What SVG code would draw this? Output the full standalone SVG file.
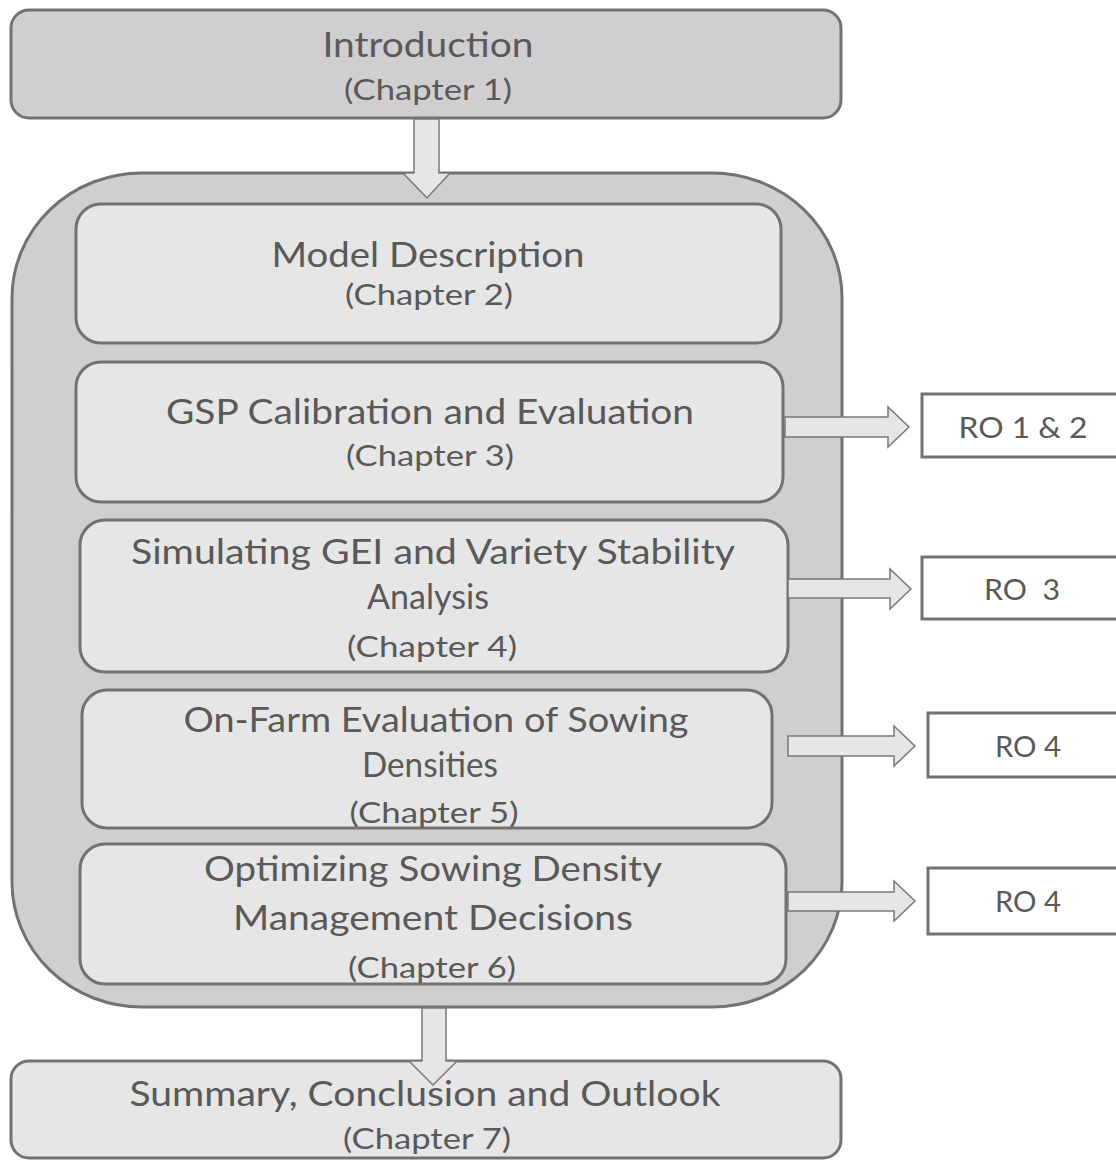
<svg xmlns="http://www.w3.org/2000/svg" width="1116" height="1167" viewBox="0 0 1116 1167">
<style>
.outer{fill:#d0cecf;stroke:#757171;stroke-width:3}
.inner{fill:#e6e6e6;stroke:#757171;stroke-width:3}
.ro{fill:#ffffff;stroke:#757171;stroke-width:3}
.arr{fill:#e6e6e6;stroke:#7a7777;stroke-width:1.5;stroke-linejoin:miter}
text{font-family:Lato,"Open Sans","Liberation Sans",sans-serif;fill:#595959;text-anchor:middle}
.t{font-size:35px}
.c{font-size:28px}
.r{font-size:29px}
</style>
<g id="intro">
<rect class="outer" x="11" y="10" width="830" height="108" rx="18"/>
<text class="t" x="428" y="57" textLength="211" lengthAdjust="spacingAndGlyphs">Introduction</text>
<text class="c" x="428" y="100" textLength="168" lengthAdjust="spacingAndGlyphs">(Chapter 1)</text>
</g>
<g id="container">
<rect class="outer" x="12" y="173" width="830" height="834" rx="130" ry="125"/>
</g>
<g id="ch2">
<rect class="inner" x="76" y="204" width="705" height="139" rx="25"/>
<text class="t" x="428" y="267" textLength="313" lengthAdjust="spacingAndGlyphs">Model Description</text>
<text class="c" x="429" y="305" textLength="168" lengthAdjust="spacingAndGlyphs">(Chapter 2)</text>
</g>
<g id="ch3">
<rect class="inner" x="76" y="362" width="707" height="140" rx="25"/>
<text class="t" x="430" y="424" textLength="528" lengthAdjust="spacingAndGlyphs">GSP Calibration and Evaluation</text>
<text class="c" x="430" y="466" textLength="168" lengthAdjust="spacingAndGlyphs">(Chapter 3)</text>
</g>
<g id="ch4">
<rect class="inner" x="80" y="520" width="708" height="152" rx="25"/>
<text class="t" x="433" y="564" textLength="604" lengthAdjust="spacingAndGlyphs">Simulating GEI and Variety Stability</text>
<text class="t" x="428" y="609" textLength="122" lengthAdjust="spacingAndGlyphs">Analysis</text>
<text class="c" x="432" y="657" textLength="170" lengthAdjust="spacingAndGlyphs">(Chapter 4)</text>
</g>
<g id="ch5">
<rect class="inner" x="82" y="690" width="690" height="138" rx="25"/>
<text class="t" x="436" y="732" textLength="505" lengthAdjust="spacingAndGlyphs">On-Farm Evaluation of Sowing</text>
<text class="t" x="430" y="777" textLength="136" lengthAdjust="spacingAndGlyphs">Densities</text>
<text class="c" x="434" y="823" textLength="169" lengthAdjust="spacingAndGlyphs">(Chapter 5)</text>
</g>
<g id="ch6">
<rect class="inner" x="80" y="844" width="706" height="140" rx="25"/>
<text class="t" x="433" y="881" textLength="458" lengthAdjust="spacingAndGlyphs">Optimizing Sowing Density</text>
<text class="t" x="433" y="930" textLength="400" lengthAdjust="spacingAndGlyphs">Management Decisions</text>
<text class="c" x="432" y="978" textLength="168" lengthAdjust="spacingAndGlyphs">(Chapter 6)</text>
</g>
<g id="ch7">
<rect class="inner" x="11" y="1061" width="830" height="97" rx="18"/>
<text class="t" x="425" y="1106" textLength="591" lengthAdjust="spacingAndGlyphs">Summary, Conclusion and Outlook</text>
<text class="c" x="427" y="1149" textLength="168" lengthAdjust="spacingAndGlyphs">(Chapter 7)</text>
</g>
<g id="ro12">
<rect class="ro" x="922" y="394" width="210" height="63"/>
<text class="r" x="1023" y="438" textLength="129" lengthAdjust="spacingAndGlyphs">RO 1 &amp; 2</text>
</g>
<g id="ro3">
<rect class="ro" x="922" y="557" width="210" height="62"/>
<text class="r" x="1022" y="600" textLength="76" lengthAdjust="spacingAndGlyphs" xml:space="preserve">RO  3</text>
</g>
<g id="ro4a">
<rect class="ro" x="928" y="713" width="210" height="64"/>
<text class="r" x="1028" y="757" textLength="66" lengthAdjust="spacingAndGlyphs">RO 4</text>
</g>
<g id="ro4b">
<rect class="ro" x="928" y="868" width="210" height="66"/>
<text class="r" x="1028" y="912" textLength="66" lengthAdjust="spacingAndGlyphs">RO 4</text>
</g>
<g id="connectors">
<path class="arr" d="M414,119 L439,119 L439,173 L450,173 L427,198 L403,173 L414,173 Z"/>
<path class="arr" d="M422,1008 L446,1008 L446,1061 L457,1061 L433,1085 L409,1061 L422,1061 Z"/>
<path class="arr" d="M785,417 L888,417 L888,407 L909,427 L888,447 L888,437 L785,437 Z"/>
<path class="arr" d="M788,579 L890,579 L890,569 L911,589 L890,609 L890,598 L788,598 Z"/>
<path class="arr" d="M788,736 L894,736 L894,726 L915,746 L894,766 L894,756 L788,756 Z"/>
<path class="arr" d="M788,892 L894,892 L894,881 L915,901 L894,921 L894,911 L788,911 Z"/>
</g>
</svg>
